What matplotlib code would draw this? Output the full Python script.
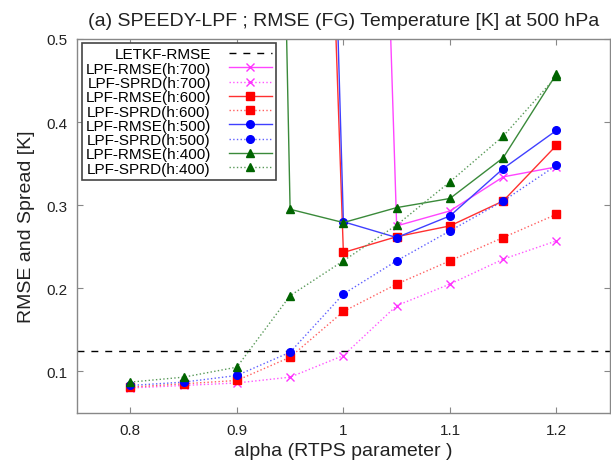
import matplotlib
matplotlib.use("Agg")
import matplotlib.pyplot as plt

plt.rcParams.update({
    "font.family": "Liberation Sans", "font.size": 11,
    "xtick.direction": "in", "ytick.direction": "in",
    "xtick.top": True, "ytick.right": True,
    "xtick.major.size": 4, "ytick.major.size": 4,
    "xtick.color": "#888888", "ytick.color": "#888888",
    "xtick.labelcolor": "#222222", "ytick.labelcolor": "#222222",
    "axes.edgecolor": "#888888", "axes.linewidth": 1.0,
})

alpha = [0.8, 0.85, 0.9, 0.95, 1.0, 1.05, 1.1, 1.15, 1.2]
letkf_rmse = 0.125

# RMSE values below the cutoff alpha diverge far above the plotted range
rmse_700 = [3.0, 3.0, 2.8, 2.6, 2.3, 0.275, 0.293, 0.334, 0.346]
sprd_700 = [0.080, 0.083, 0.086, 0.093, 0.119, 0.179, 0.205, 0.235, 0.257]
rmse_600 = [3.0, 2.8, 2.5, 2.1, 0.243, 0.262, 0.275, 0.305, 0.372]
sprd_600 = [0.081, 0.085, 0.089, 0.117, 0.172, 0.205, 0.233, 0.261, 0.289]
rmse_500 = [3.0, 2.9, 2.7, 2.5, 0.280, 0.261, 0.287, 0.344, 0.390]
sprd_500 = [0.083, 0.087, 0.095, 0.123, 0.193, 0.233, 0.269, 0.305, 0.348]
rmse_400 = [4.0, 3.8, 3.45, 0.295, 0.279, 0.297, 0.308, 0.357, 0.458]
sprd_400 = [0.087, 0.093, 0.105, 0.191, 0.233, 0.276, 0.328, 0.383, 0.455]

series = [
    ("LPF-RMSE(h:700)", rmse_700, "#ff44ff", "#ff33ff", "x", "-"),
    ("LPF-SPRD(h:700)", sprd_700, "#ff55ff", "#ff33ff", "x", ":"),
    ("LPF-RMSE(h:600)", rmse_600, "#ff3030", "#ff0000", "s", "-"),
    ("LPF-SPRD(h:600)", sprd_600, "#ff6060", "#ff0000", "s", ":"),
    ("LPF-RMSE(h:500)", rmse_500, "#4040ff", "#0000ff", "o", "-"),
    ("LPF-SPRD(h:500)", sprd_500, "#6060ff", "#0000ff", "o", ":"),
    ("LPF-RMSE(h:400)", rmse_400, "#3a8a3a", "#006400", "^", "-"),
    ("LPF-SPRD(h:400)", sprd_400, "#5a9a5a", "#006400", "^", ":"),
]

fig = plt.figure(figsize=(6.11, 4.64), dpi=100)
ax = fig.add_axes([0.126, 0.108, 0.872, 0.806])

ax.axhline(letkf_rmse, color="black", linestyle=(0, (5, 5)), linewidth=1.0,
           label="LETKF-RMSE")
for label, vals, lc, mc, mk, ls in series:
    ax.plot(alpha, vals, linestyle=ls, color=lc, linewidth=1.0,
            marker=mk, markersize=5.5,
            markerfacecolor=mc, markeredgecolor=mc, label=label)

ax.set_xlim(0.75, 1.25)
ax.set_ylim(0.05, 0.5)
ax.set_xticks([0.8, 0.9, 1.0, 1.1, 1.2])
ax.set_xticklabels(["0.8", "0.9", "1", "1.1", "1.2"])
ax.set_yticks([0.1, 0.2, 0.3, 0.4, 0.5])
ax.tick_params(labelsize=11, pad=7)

ax.set_xlabel("alpha (RTPS parameter )", fontsize=14, color="#222222")
ax.set_ylabel("RMSE and Spread [K]", fontsize=14, color="#222222", labelpad=8)
ax.set_title("(a) SPEEDY-LPF ; RMSE (FG) Temperature [K] at 500 hPa",
             fontsize=14, color="#222222", pad=10)

leg = ax.legend(loc="upper left", markerfirst=False, fontsize=11,
                frameon=True, fancybox=False, framealpha=1.0,
                edgecolor="#444444", handlelength=2.8, handletextpad=1.2,
                labelspacing=0.02, borderpad=0.25, borderaxespad=0.3)
leg.get_frame().set_linewidth(1.2)

fig.savefig("out.png", dpi=100)
